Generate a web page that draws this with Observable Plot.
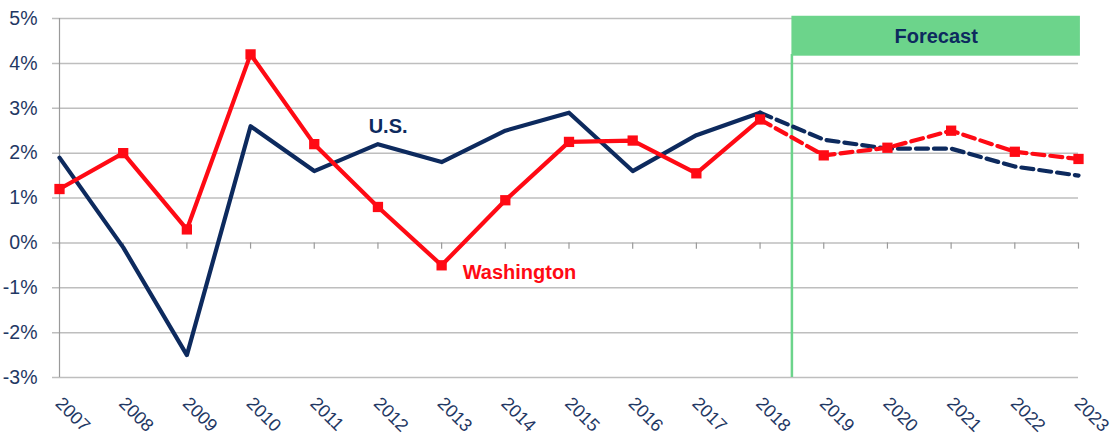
<!DOCTYPE html>
<html>
<head>
<meta charset="utf-8">
<script src="https://cdn.jsdelivr.net/npm/d3@7"></script>
<script src="https://cdn.jsdelivr.net/npm/@observablehq/plot@0.6"></script>
<style>
  html, body { margin: 0; padding: 0; background: #fff; }
  #chart svg { display: block; }
</style>
</head>
<body>
<div id="chart"></div>
<script>
const years = [2007, 2008, 2009, 2010, 2011, 2012, 2013, 2014, 2015, 2016, 2017, 2018, 2019, 2020, 2021, 2022, 2023];
const usValues = [1.9, -0.1, -2.5, 2.6, 1.6, 2.2, 1.8, 2.5, 2.9, 1.6, 2.4, 2.9, 2.3, 2.1, 2.1, 1.7, 1.5];
const waValues = [1.2, 2.0, 0.3, 4.2, 2.2, 0.8, -0.5, 0.95, 2.25, 2.28, 1.55, 2.75, 1.95, 2.12, 2.5, 2.03, 1.87];
const yTicks = [-3, -2, -1, 0, 1, 2, 3, 4, 5];
const lastActualYear = 2018;
const forecastLabel = "Forecast";
const seriesLabels = ["U.S.", "Washington"];

const NAVY = "#0D2A5E";
const RED = "#FF0A14";
const GREEN = "#6CD48B";
const TEXT = "#1F3864";
const GRID = "#BEBEBE";

const us = years.map((y, i) => ({year: y, value: usValues[i]}));
const wa = years.map((y, i) => ({year: y, value: waValues[i]}));
const actual = d => d.year <= lastActualYear;
const forecast = d => d.year >= lastActualYear;

const chart = Plot.plot({
  width: 1112,
  height: 441,
  marginLeft: 59,
  marginRight: 34,
  marginTop: 18,
  marginBottom: 64,
  style: {fontFamily: "'Liberation Sans', Arial, sans-serif", background: "#fff"},
  x: {domain: [2007, 2023], axis: null},
  y: {domain: [-3, 5], axis: null},
  marks: [
    // horizontal gridlines
    Plot.ruleY(yTicks, {stroke: GRID, strokeWidth: 1.5, insetLeft: -7}),
    // y tick labels
    Plot.text(yTicks, {
      x: 2007, y: d => d, text: d => `${d}%`, dx: -22, textAnchor: "end",
      fontSize: 19.5, fill: TEXT
    }),
    // small tick marks on the 0% line
    Plot.ruleX(years, {x: d => d, y1: 0, y2: -0.14, stroke: "#9A9A9A", strokeWidth: 1.2}),
    // left axis line
    Plot.ruleX([2007], {y1: -3, y2: 5, stroke: "#9A9A9A", strokeWidth: 1.2}),
    // forecast divider
    Plot.ruleX([lastActualYear + 0.5], {y1: -3, y2: 4.2, stroke: GREEN, strokeWidth: 2.5}),
    // U.S. line
    Plot.line(us.filter(actual), {x: "year", y: "value", stroke: NAVY, strokeWidth: 4.2}),
    Plot.line(us.filter(forecast), {x: "year", y: "value", stroke: NAVY, strokeWidth: 4.2, strokeDasharray: "12,6"}),
    // Washington line
    Plot.line(wa.filter(actual), {x: "year", y: "value", stroke: RED, strokeWidth: 4.2}),
    Plot.line(wa.filter(forecast), {x: "year", y: "value", stroke: RED, strokeWidth: 4.2, strokeDasharray: "12,6"}),
    Plot.dot(wa, {x: "year", y: "value", symbol: "square", r: 5.8, fill: RED, stroke: "none"}),
    // Forecast box
    Plot.rect([forecastLabel], {x1: lastActualYear + 0.5, x2: 2023.03, y1: 4.16, y2: 5.05, fill: GREEN}),
    Plot.text([forecastLabel], {
      x: (lastActualYear + 0.5 + 2023.03) / 2, y: 4.6, text: d => d,
      fontSize: 20, fontWeight: "bold", fill: NAVY
    }),
    // series labels
    Plot.text([seriesLabels[0]], {x: 2012.16, y: 2.6, text: d => d, fontSize: 20, fontWeight: "bold", fill: NAVY}),
    Plot.text([seriesLabels[1]], {x: 2013.33, y: -0.67, text: d => d, textAnchor: "start", fontSize: 20, fontWeight: "bold", fill: RED}),
    // x tick labels (rotated)
    Plot.text(years, {
      x: d => d, y: -3, text: d => String(d), rotate: 45, textAnchor: "start",
      lineAnchor: "middle", dx: -1, dy: 23, fontSize: 18, fill: TEXT
    })
  ]
});

document.getElementById("chart").appendChild(chart);
</script>
</body>
</html>
